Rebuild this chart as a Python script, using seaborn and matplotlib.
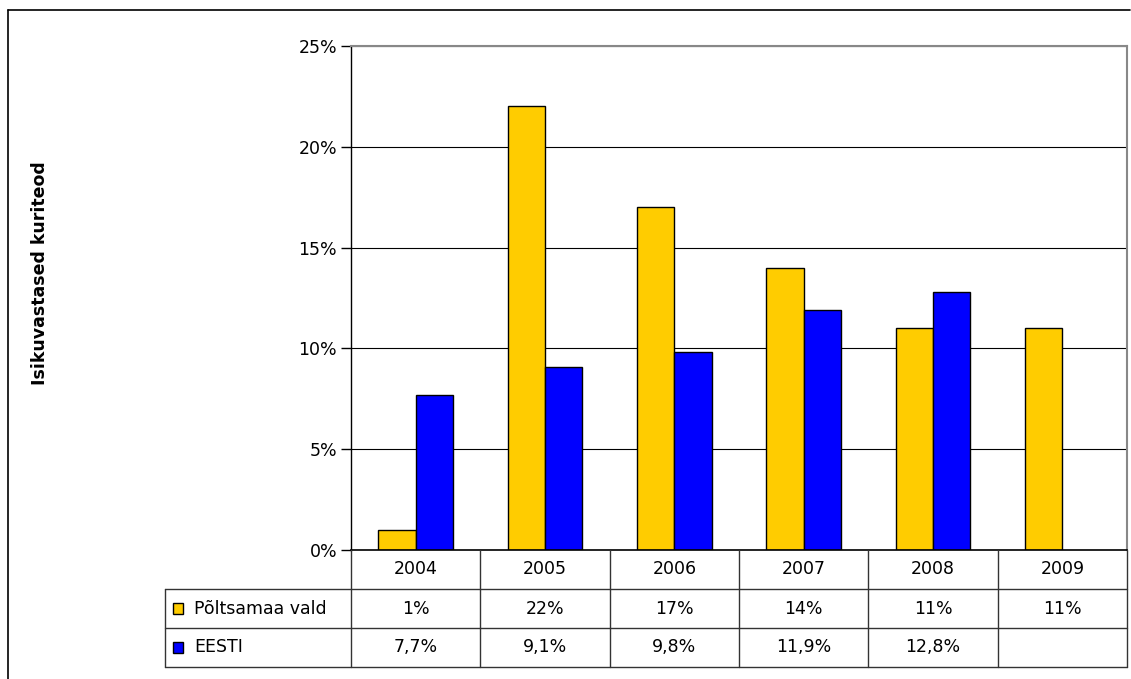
import matplotlib
matplotlib.use("Agg")
import matplotlib.pyplot as plt
import numpy as np
import pandas as pd
import seaborn as sns
from matplotlib.lines import Line2D
from matplotlib.patches import Rectangle

years = ["2004", "2005", "2006", "2007", "2008", "2009"]
series_names = ["Põltsamaa vald", "EESTI"]
poltsamaa = [1, 22, 17, 14, 11, 11]
eesti = [7.7, 9.1, 9.8, 11.9, 12.8, np.nan]
colors = ["#FFCC00", "#0000FF"]
y_label = "Isikuvastased kuriteod"

FS = 12.5


def fmt(v, dec):
    if np.isnan(v):
        return ""
    return ("{:.%df}%%" % dec).format(v).replace(".", ",")


def main():
    sns.set_style("white")
    plt.rcParams["font.family"] = ["DejaVu Sans"]
    plt.rcParams["text.color"] = "black"
    plt.rcParams["ytick.color"] = "black"
    plt.rcParams["ytick.labelcolor"] = "black"

    df = pd.DataFrame({
        "year": years * 2,
        "series": [series_names[0]] * len(years) + [series_names[1]] * len(years),
        "value": poltsamaa + eesti,
    })

    W, H = 1131, 679
    fig = plt.figure(figsize=(W / 100, H / 100), dpi=100)

    # pixel layout
    px_left, px_right, px_top, px_bottom = 351, 1127, 46, 550
    ax = fig.add_axes([px_left / W, 1 - px_bottom / H,
                       (px_right - px_left) / W, (px_bottom - px_top) / H])

    sns.barplot(data=df, x="year", y="value", hue="series", palette=colors,
                width=0.575, gap=0, edgecolor="black", linewidth=1,
                legend=False, ax=ax, saturation=1, errorbar=None)

    ax.set_xlim(-0.5, len(years) - 0.5)
    ax.set_ylim(0, 25)
    ax.set_yticks(np.arange(0, 26, 5))
    ax.set_yticklabels(["%d%%" % t for t in range(0, 26, 5)], fontsize=FS,
                       color="black")
    ax.set_xticks([])
    ax.set_xlabel("")
    ax.set_ylabel("")
    ax.yaxis.grid(True, color="black", linewidth=0.8)
    ax.set_axisbelow(True)
    ax.tick_params(axis="y", length=7, width=1, color="black", direction="out",
                   left=True, pad=3)
    ax.spines["left"].set_color("black")
    ax.spines["bottom"].set_color("black")
    ax.spines["left"].set_linewidth(1)
    ax.spines["bottom"].set_linewidth(1.2)
    ax.spines["top"].set_color("#888888")
    ax.spines["right"].set_color("#888888")
    ax.spines["top"].set_linewidth(1.5)
    ax.spines["right"].set_linewidth(1.5)

    # data table below the plot
    cat_px = (px_right - px_left) / len(years)
    tab_left, tab_top, tab_bottom = 165, 550, 667
    tax = fig.add_axes([tab_left / W, 1 - tab_bottom / H,
                        (px_right - tab_left) / W, (tab_bottom - tab_top) / H])
    x0 = (tab_left - px_left) / cat_px - 0.5
    tax.set_xlim(x0, len(years) - 0.5)
    tax.set_ylim(3, 0)
    tax.axis("off")
    lc = "#333333"
    lw = 1
    xe = len(years) - 0.5
    # horizontal lines
    for yy in (1, 2, 3):
        tax.add_line(Line2D([x0, xe], [yy, yy], color=lc, lw=lw, clip_on=False))
    # vertical lines
    for i in range(len(years) + 1):
        xx = i - 0.5
        tax.add_line(Line2D([xx, xx], [0, 3], color=lc, lw=lw, clip_on=False))
    tax.add_line(Line2D([x0, x0], [1, 3], color=lc, lw=lw, clip_on=False))

    for i, yr in enumerate(years):
        tax.text(i, 0.5, yr, ha="center", va="center", fontsize=FS)
    rows = [(poltsamaa, 0), (eesti, 1)]
    for r, (vals, dec) in enumerate(rows):
        yy = r + 1.5
        for i, v in enumerate(vals):
            tax.text(i, yy, fmt(float(v), dec), ha="center", va="center", fontsize=FS)
        # legend key + name
        kx = x0 + 8 / cat_px
        tax.add_patch(Rectangle((kx, yy - 0.15), 10 / cat_px, 0.3,
                                facecolor=colors[r], edgecolor="black", lw=1,
                                clip_on=False))
        tax.text(kx + 21 / cat_px, yy, series_names[r], ha="left", va="center",
                 fontsize=FS)

    # y label
    fig.text(40 / W, 1 - 273 / H, y_label, rotation=90, ha="center",
             va="center", fontsize=FS, fontweight="bold")

    # outer chart frame
    fig.add_artist(Line2D([8 / W, 1130 / W], [1 - 10 / H, 1 - 10 / H],
                          transform=fig.transFigure, color="black", lw=1.2))
    fig.add_artist(Line2D([8 / W, 8 / W], [1 - 10 / H, 0],
                          transform=fig.transFigure, color="black", lw=1.2))

    fig.savefig("out.png", dpi=100)


if __name__ == "__main__":
    main()
